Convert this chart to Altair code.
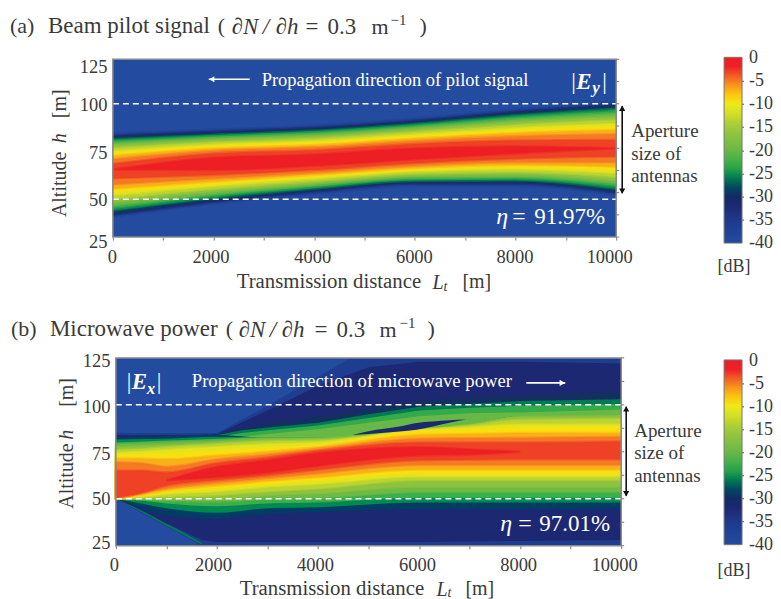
import altair as alt
import pandas as pd

SERIF = "Liberation Serif"
INK = "#3a3a3a"

db_stops = [-40, -35, -31, -29, -27, -25, -22.5, -20, -15, -12.5, -9.5, -7, -5, -3.5, -2, 0]
db_colors = ["#234ba0", "#1e3a8c", "#1a2268", "#143060", "#0c5a4c", "#0b9a4a", "#3cae4a", "#68b846",
             "#a0c83c", "#d0dc28", "#f6eb14", "#fab018", "#f47a24", "#f04d26", "#ee2025", "#ee1c25"]
db_ticks = [0, -5, -10, -15, -20, -25, -30, -35, -40]
tick_x = [0, 1000, 2000, 3000, 4000, 5000, 6000, 7000, 8000, 9000, 10000]
tick_y = [25, 50, 75, 100, 125]
tick_y_minor = [25, 37.5, 50, 62.5, 75, 87.5, 100, 112.5, 125]

# fill colour (dB) of each nested contour band
a_band_db = [-36.5, -32, -28.5, -25.5, -22.5, -19.5, -16.5, -13.5, -11, -9, -7, -5, -3, -1]
a_x = [0, 2000, 4000, 6000, 8000, 10000]
a_upper = [
    [83.1, 82.0, 81.2, 80.1, 79.0, 77.8, 76.5, 75.0, 73.3, 72.1, 70.6, 68.8, 66.2, 63.0],
    [85.4, 84.3, 83.4, 82.5, 81.6, 80.6, 79.5, 78.3, 77.0, 76.0, 74.8, 73.6, 72.0, 69.7],
    [87.6, 86.5, 85.7, 84.8, 83.8, 82.7, 81.6, 80.3, 79.0, 78.0, 76.8, 75.5, 73.9, 71.5],
    [91.6, 90.4, 89.6, 88.7, 87.6, 86.6, 85.4, 84.1, 82.7, 81.6, 80.4, 79.1, 77.4, 75.0],
    [96.6, 95.5, 94.7, 93.5, 92.3, 91.0, 89.6, 88.0, 86.3, 85.0, 83.5, 81.7, 79.4, 76.0],
    [100.6, 99.4, 98.6, 97.2, 95.8, 94.3, 92.6, 90.7, 88.6, 87.0, 85.2, 82.9, 79.6, 75.0],
]
a_lower = [
    [36.5, 37.6, 38.5, 39.9, 41.3, 42.9, 44.7, 46.5, 48.7, 50.3, 52.2, 54.6, 58.0, 63.0],
    [43.8, 44.9, 45.8, 46.9, 48.1, 49.3, 50.7, 52.1, 53.8, 55.0, 56.3, 57.9, 59.9, 62.7],
    [49.4, 50.6, 51.4, 52.3, 53.3, 54.3, 55.3, 56.5, 57.9, 58.9, 60.0, 61.2, 62.8, 65.1],
    [53.9, 55.1, 55.9, 56.7, 57.6, 58.6, 59.6, 60.7, 62.0, 62.9, 63.9, 65.1, 66.6, 68.7],
    [53.9, 55.1, 55.9, 56.9, 57.9, 59.0, 60.3, 61.6, 63.1, 64.3, 65.6, 67.1, 69.1, 72.0],
    [48.9, 50.0, 50.8, 52.2, 53.7, 55.3, 57.0, 58.9, 61.1, 62.7, 64.6, 67.0, 70.3, 75.0],
]

b_band_db = [-28.5, -25.5, -22.5, -19.5, -16.5, -13.5, -11, -9, -7, -5, -3, -1]
b_x = [0, 500, 1000, 2000, 3000, 4000, 6000, 7000, 8000, 10000]
b_upper = [
    [82.8, 81.5, 80.0, 79.0, 77.5, 76.0, 74.5, 73.0, 71.5, 69.5, 65.0, None],
    [83.2, 81.8, 80.5, 79.5, 78.0, 76.5, 75.0, 73.5, 71.5, 69.0, 65.0, None],
    [83.5, 82.0, 81.0, 80.0, 78.5, 77.5, 76.0, 74.0, 71.0, 67.0, 64.0, 59.8],
    [84.0, 83.0, 82.0, 81.0, 80.0, 79.0, 77.5, 75.5, 73.0, 71.0, 69.0, 67.0],
    [82.5, 82.5, 82.5, 82.5, 81.5, 80.5, 79.0, 77.0, 75.0, 73.5, 72.0, 70.5],
    [82.5, 82.5, 82.5, 82.5, 82.0, 81.0, 80.0, 78.5, 77.5, 76.5, 75.5, 74.3],
    [87.0, 87.0, 87.0, 87.0, 86.8, 86.6, 86.5, 86.4, 84.0, 82.0, 80.0, 77.5],
    [89.5, 89.5, 89.5, 89.5, 89.3, 89.0, 88.0, 87.0, 84.5, 82.3, 80.0, 76.3],
    [94.0, 94.0, 94.0, 94.0, 93.5, 92.0, 89.5, 88.0, 85.0, 82.5, 80.0, 75.0],
    [94.0, 94.0, 94.0, 94.0, 94.0, 92.5, 89.5, 88.0, 85.0, 83.0, 80.5, None],
]
b_lower = [
    [50.0, 50.0, 50.0, 50.0, 50.0, 50.0, 50.0, 50.0, 50.1, 50.2, 50.5, None],
    [45.0, 47.5, 49.0, 49.7, 50.0, 50.5, 51.0, 51.5, 52.0, 53.0, 53.0, None],
    [41.0, 45.0, 47.5, 49.0, 50.0, 51.0, 52.5, 53.6, 54.5, 55.5, 57.0, 59.8],
    [39.5, 42.5, 46.0, 48.5, 50.0, 52.0, 54.0, 55.5, 57.0, 58.5, 60.0, 61.5],
    [42.0, 45.0, 47.5, 50.0, 52.0, 54.0, 56.5, 58.0, 59.5, 61.0, 62.5, 64.0],
    [43.0, 45.5, 48.0, 50.5, 53.0, 55.5, 58.0, 59.8, 61.5, 63.5, 65.5, 67.5],
    [44.5, 48.0, 50.5, 53.5, 56.5, 60.0, 62.0, 63.5, 65.5, 68.0, 70.5, 73.0],
    [44.5, 48.0, 50.5, 53.5, 56.5, 60.0, 62.0, 63.5, 65.5, 68.0, 70.8, 73.5],
    [44.5, 48.0, 50.5, 53.5, 56.5, 60.0, 62.0, 63.5, 65.5, 68.0, 71.0, 75.0],
    [44.7, 48.0, 50.5, 53.5, 56.5, 60.0, 62.0, 63.5, 65.5, 68.0, 71.0, None],
]

# regions of weak field around the beam of panel (b)
wedge_outer_x = [0, 500, 1000, 1700, 2000, 3000, 4000, 4650, 10000]
wedge_outer_up = [85, 85, 85, 85, 85, 99.5, 115, 125, 125]
wedge_outer_lo = [50, 42.6, 35.3, 25, 25, 25, 25, 25, 25]
wedge_inner_x = [0, 500, 1000, 1700, 2000, 3000, 4000, 5000, 6000, 8000, 10000]
wedge_inner_up = [84, 84, 84, 84, 84.5, 97, 110, 120, 123, 123, 122]
wedge_inner_lo = [50, 43.5, 37, 28, 27, 27, 27, 27, 27, 27.5, 28]
ray_x = [0, 300, 600, 900, 1300, 1700]
ray_up = [50, 46.4, 42.6, 38.2, 32.6, 26.5]
ray_lo = [50, 45.8, 41.6, 37.1, 31.4, 25.5]
lobe_x = [2000, 2500, 3000, 4000, 5000, 6000, 7000, 8000, 10000]
lobe_base = [70, 70, 70, 70, 70, 70, 70, 70, 70]
lobe_up_1 = [84.5, 87.5, 90, 93.5, 98, 102, 103.5, 105, 107]
lobe_up_2 = [84, 86.5, 88, 90.5, 95, 99, 100.5, 102, 103]
lobe_up_3 = [83, 85, 86.5, 89, 93, 97, 98.5, 99.5, 100.5]
lobe_up_4 = [81.5, 83, 84.5, 87, 90.5, 94, 95.5, 96, 97.5]
gap_x = [4680, 5000, 5610, 5950, 6270, 6600, 6930]
gap_up = [84, 86, 88.5, 90.4, 91.2, 91.8, 92.2]
gap_lo = [84, 84.5, 85.8, 86.8, 88.5, 90.5, 92.2]


def hex_for(db):
    for i in range(len(db_stops) - 1):
        if db_stops[i] <= db <= db_stops[i + 1]:
            t = (db - db_stops[i]) / (db_stops[i + 1] - db_stops[i])
            c0, c1 = db_colors[i], db_colors[i + 1]
            parts = []
            for k in (1, 3, 5):
                v0, v1 = int(c0[k:k + 2], 16), int(c1[k:k + 2], 16)
                parts.append(round(v0 + (v1 - v0) * t))
            return "#%02x%02x%02x" % tuple(parts)
    return db_colors[-1]


def band_rows(xs, ups, los, dbs, start, first=0, last=None):
    rows = []
    for j, db in enumerate(dbs):
        if j < first or (last is not None and j >= last):
            continue
        for i, x in enumerate(xs):
            if ups[i][j] is not None:
                rows.append({"x": x, "up": ups[i][j], "lo": los[i][j], "db": db, "band": start + j})
    return rows


def single_band(xs, up, lo, db, band):
    return [{"x": x, "up": u, "lo": l, "db": db, "band": band} for x, u, l in zip(xs, up, lo)]


a_rows = band_rows(a_x, a_upper, a_lower, a_band_db, 1)
b_rows_before = (
    single_band(wedge_outer_x, wedge_outer_up, wedge_outer_lo, -36, 1)
    + single_band(wedge_inner_x, wedge_inner_up, wedge_inner_lo, -32, 2)
    + single_band(ray_x, ray_up, ray_lo, -26, 3)
    + single_band(lobe_x, lobe_up_1, lobe_base, -29, 4)
    + single_band(lobe_x, lobe_up_2, lobe_base, -26, 5)
    + single_band(lobe_x, lobe_up_3, lobe_base, -23, 6)
    + single_band(lobe_x, lobe_up_4, lobe_base, -20, 7)
)
b_rows_outer = band_rows(b_x, b_upper, b_lower, b_band_db, 10, last=3)
b_rows_inner = band_rows(b_x, b_upper, b_lower, b_band_db, 10, first=3)
b_rows_gap = single_band(gap_x, gap_up, gap_lo, -32, 40)

ORIGIN_X = 113


def note(text, px, py, T, size=18, color=INK, font=SERIF, style="normal", weight="normal", align="left", angle=0):
    return alt.Chart(alt.Data(values=[{"t": text}])).mark_text(
        font=font, fontSize=size, color=color, fontStyle=style, fontWeight=weight,
        align=align, baseline="middle", angle=angle,
    ).encode(text="t:N", x=alt.value(px - ORIGIN_X), y=alt.value(py - T))


def arrow(x1, y1, x2, y2, T, color, heads):
    one = alt.Data(values=[{"k": 1}])
    L = ORIGIN_X
    parts = [alt.Chart(one).mark_rule(color=color, strokeWidth=1.6).encode(
        x=alt.value(x1 - L), x2=alt.value(x2 - L), y=alt.value(y1 - T), y2=alt.value(y2 - T))]
    for hx, hy, shape in heads:
        parts.append(alt.Chart(one).mark_point(filled=True, shape=shape, size=38, color=color, opacity=1).encode(
            x=alt.value(hx - L), y=alt.value(hy - T)))
    return parts


def panel(rows_list, L, T, W, H, dashes, y_off, x_off, y_pad, legend_y, legend_len):
    x0 = L - ORIGIN_X
    xs = alt.Scale(domain=[0, 10000], nice=False, range=[x0, x0 + W])
    ys = alt.Scale(domain=[25, 125], nice=False)
    cs = alt.Scale(domain=db_stops, range=db_colors, clamp=True)
    base_df = pd.DataFrame({"x": [0, 10000], "up": [125, 125], "lo": [25, 25], "db": [-40, -40], "band": [0, 0]})
    legend = alt.Legend(type="gradient", orient="none", legendX=723 - ORIGIN_X + 2, legendY=legend_y,
                        gradientLength=legend_len,
                        gradientThickness=18, title=None, values=db_ticks, labelExpr="''",
                        gradientStrokeColor="#777", gradientStrokeWidth=1, labelFontSize=1)
    x_axis = alt.Axis(values=tick_x, grid=False, domain=False, tickColor="#777", tickSize=3,
                      labelFont=SERIF, labelFontSize=18.5, labelColor=INK, labelPadding=7, labelAngle=0,
                      labelOverlap=False, labelFlush=False, title=None,
                      labelExpr="datum.value % 2000 ? '' : format(datum.value, 'd')",
                      labelOffset=alt.expr(x_off))
    y_axis = alt.Axis(values=tick_y, grid=False, domain=False, ticks=False, labelFont=SERIF,
                      labelFontSize=18.5, labelColor=INK, labelPadding=y_pad, labelOverlap=False, title=None,
                      labelFlush=False, labelOffset=alt.expr(y_off))
    def enc(c):
        return c.encode(
            x=alt.X("x:Q", scale=xs, axis=x_axis),
            y=alt.Y("up:Q", scale=ys, axis=y_axis),
            y2="lo:Q",
            detail="band:N",
            color=alt.Color("db:Q", scale=cs, legend=legend),
        )
    layers = [enc(alt.Chart(base_df).mark_area(clip=True, interpolate="linear"))]
    for rows, interp, soft in rows_list:
        if soft:
            # one layer per band, with a half-transparent edge of the band's own colour
            for band in sorted({r["band"] for r in rows}):
                sub = [r for r in rows if r["band"] == band]
                layers.append(enc(alt.Chart(pd.DataFrame(sub)).mark_area(
                    clip=True, interpolate=interp, stroke=hex_for(sub[0]["db"]), strokeWidth=2.4, strokeOpacity=0.5)))
        else:
            layers.append(enc(alt.Chart(pd.DataFrame(rows)).mark_area(clip=True, interpolate=interp)))
    one = alt.Data(values=[{"k": 1}])
    layers.append(alt.Chart(pd.DataFrame({"h": dashes})).mark_rule(
        color="white", strokeDash=[6, 4], strokeWidth=1.5).encode(
        y=alt.Y("h:Q", scale=ys), x=alt.value(x0), x2=alt.value(x0 + W)))
    layers.append(alt.Chart(pd.DataFrame({"h": tick_y_minor})).mark_rule(color="#777").encode(
        y=alt.Y("h:Q", scale=ys), x=alt.value(x0 + W), x2=alt.value(x0 + W + 3)))
    layers.append(alt.Chart(one).mark_rect(filled=False, stroke="#888", strokeWidth=1.5).encode(
        x=alt.value(x0), x2=alt.value(x0 + W), y=alt.value(0), y2=alt.value(H)))
    return layers


def bar_ticks(ys, T):
    one = alt.Data(values=[{"k": 1}])
    return [alt.Chart(one).mark_rule(color="#555").encode(
        x=alt.value(741 - ORIGIN_X), x2=alt.value(745 - ORIGIN_X), y=alt.value(y - T)) for y in ys[1:-1]]


# ---- panel (a) ----
La, Ta, Wa, Ha = 113, 59, 504, 178
la = panel([(a_rows, "monotone", True)], La, Ta, Wa, Ha, [100, 46.3],
           "datum.value==125?7:datum.value==75?4:datum.value==50?6.5:datum.value==25?4.5:0.5",
           "datum.value==10000?-7:datum.value==2000?-3:datum.value==4000?-2:-1",
           6, 57 - Ta, 186)
na = lambda *args, **kw: note(args[0], args[1], args[2], Ta, **kw)
la += [
    na("(a)", 10, 26, size=22),
    na("Beam pilot signal", 48, 26, size=23),
    na("(", 218, 26, size=22),
    na("∂N", 232, 27, size=23, style="italic"),
    na("/", 263, 27, size=23, style="italic"),
    na("∂h", 276, 27, size=23, style="italic"),
    na("=", 306, 27, size=23),
    na("0.3", 328, 27, size=23),
    na("m", 372, 27, size=22),
    na("−1", 391, 20, size=15),
    na(")", 420, 26, size=22),
    na("Propagation direction of pilot signal", 262, 80, size=18.5, color="white"),
    na("|", 572, 82, size=23, color="white"),
    na("E", 577, 82, size=23, color="white", style="italic", weight="bold"),
    na("y", 593, 88, size=17, color="white", style="italic", weight="bold"),
    na("|", 603, 82, size=23, color="white"),
    na("η", 497, 217, size=24, color="white", style="italic"),
    na("=", 513, 217, size=24, color="white"),
    na("91.97%", 535, 217, size=23, color="white"),
    na("Aperture", 632, 131, size=19),
    na("size of", 632, 154, size=19),
    na("antennas", 632, 176, size=19),
    na("[dB]", 735, 267, size=18, align="center"),
    na("Transmission distance", 237, 282, size=20.8),
    na("L", 433, 283, size=20, style="italic"),
    na("t", 444, 287, size=14, style="italic"),
    na("[m]", 463, 282, size=20),
    na("Altitude", 60, 217, size=20, angle=270),
    na("h", 60, 143, size=20, style="italic", angle=270),
    na("[m]", 60, 118, size=20, angle=270),
]
a_bar_y = [58, 81, 104, 127, 151, 174, 197, 220, 243]
for v, y in zip(db_ticks, a_bar_y):
    la.append(na(str(v), 750, y, size=18))
la += bar_ticks(a_bar_y, Ta)
la += arrow(209, 79, 250, 79, Ta, "white", [(212, 79, "triangle-left")])
la += arrow(623, 106, 623, 193, Ta, "#111", [(623, 108, "triangle-up"), (623, 191, "triangle-down")])
chart_a = alt.layer(*la).properties(width=La - ORIGIN_X + Wa, height=Ha).resolve_scale(color="shared")

# ---- panel (b) ----
Lb, Tb, Wb, Hb = 116, 359, 506, 188
lb = panel([(b_rows_before, "linear", False), (b_rows_outer, "monotone", False), (b_rows_inner, "monotone", True),
            (b_rows_gap, "monotone", False)],
           Lb, Tb, Wb, Hb, [100, 50],
           "datum.value==125?3:datum.value==100?2:datum.value==75?2:datum.value==25?-3:0",
           "datum.value==10000?-7:datum.value==2000?-4:datum.value==4000?-3:-2",
           3, 361 - Tb, 185)
nb = lambda *args, **kw: note(args[0], args[1], args[2], Tb, **kw)
lb += [
    nb("(b)", 11, 330, size=22),
    nb("Microwave power", 50, 330, size=23),
    nb("(", 226, 330, size=22),
    nb("∂N", 239, 331, size=23, style="italic"),
    nb("/", 270, 331, size=23, style="italic"),
    nb("∂h", 282, 331, size=23, style="italic"),
    nb("=", 315, 331, size=23),
    nb("0.3", 337, 331, size=23),
    nb("m", 380, 331, size=22),
    nb("−1", 400, 324, size=15),
    nb(")", 428, 330, size=22),
    nb("Propagation direction of microwave power", 192, 382, size=18.7, color="white"),
    nb("|", 127, 383, size=23, color="white"),
    nb("E", 132, 383, size=23, color="white", style="italic", weight="bold"),
    nb("x", 147, 390, size=17, color="white", style="italic", weight="bold"),
    nb("|", 157, 383, size=23, color="white"),
    nb("η", 501, 525, size=24, color="white", style="italic"),
    nb("=", 519, 525, size=24, color="white"),
    nb("97.01%", 540, 525, size=23, color="white"),
    nb("Aperture", 635, 432, size=19),
    nb("size of", 635, 454, size=19),
    nb("antennas", 635, 477, size=19),
    nb("[dB]", 735, 572, size=18, align="center"),
    nb("Transmission distance", 240, 590, size=20.8),
    nb("L", 437, 591, size=20, style="italic"),
    nb("t", 448, 594, size=14, style="italic"),
    nb("[m]", 466, 590, size=20),
    nb("Altitude", 67, 510, size=20, angle=270),
    nb("h", 67, 441, size=20, style="italic", angle=270),
    nb("[m]", 67, 408, size=20, angle=270),
]
b_bar_y = [362, 385, 408, 431, 454, 477, 500, 523, 546]
for v, y in zip(db_ticks, b_bar_y):
    lb.append(nb(str(v), 750, y, size=18))
lb += bar_ticks(b_bar_y, Tb)
lb += arrow(527, 384, 566, 384, Tb, "white", [(563, 384, "triangle-right")])
lb += arrow(627, 408, 627, 497, Tb, "#111", [(627, 410, "triangle-up"), (627, 495, "triangle-down")])
chart_b = alt.layer(*lb).properties(width=Lb - ORIGIN_X + Wb, height=Hb).resolve_scale(color="shared")

chart = alt.concat(chart_a, chart_b, columns=1, spacing=22).resolve_scale(color="independent").properties(
    padding={"left": 2, "top": 5, "right": 0, "bottom": 0},
    background="white",
).configure_view(stroke=None)

chart.save("out.html", embed_options={"renderer": "svg", "actions": False})
